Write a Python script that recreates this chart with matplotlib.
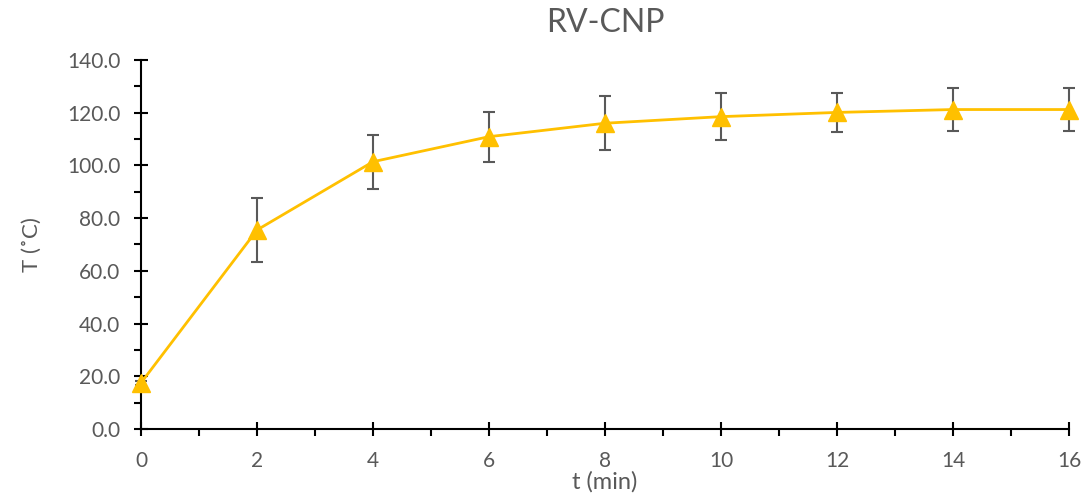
import matplotlib
matplotlib.use("Agg")
import matplotlib.pyplot as plt
from matplotlib.ticker import MultipleLocator, FormatStrFormatter

t_min = [0, 2, 4, 6, 8, 10, 12, 14, 16]
temp = [17.5, 75.5, 101.4, 110.9, 116.0, 118.5, 120.1, 121.2, 121.2]
err = [0.8, 12.0, 10.3, 9.5, 10.2, 9.0, 7.4, 8.1, 8.1]

plt.rcParams['font.family'] = ['Lato', 'DejaVu Sans']
gray = '#595959'
gold = '#FFC000'

fig = plt.figure(figsize=(10.88, 4.99), dpi=100)
ax = fig.add_axes([0.1296, 0.1403, 0.8529, 0.7395])

ax.plot(t_min, temp, color=gold, lw=2.0, zorder=2)
eb = ax.errorbar(t_min, temp, yerr=err, fmt='none', ecolor=gray, elinewidth=1.5,
                 capsize=4, capthick=1.5, zorder=3)
for artist in eb.lines[1] + eb.lines[2]:
    artist.set_clip_on(False)
ax.plot(t_min, temp, linestyle='none', marker='^', markersize=13, color=gold,
        zorder=4, clip_on=False)

ax.set_xlim(0, 16)
ax.set_ylim(0, 140)
ax.xaxis.set_major_locator(MultipleLocator(2))
ax.xaxis.set_minor_locator(MultipleLocator(1))
ax.yaxis.set_major_locator(MultipleLocator(20))
ax.yaxis.set_minor_locator(MultipleLocator(10))
ax.yaxis.set_major_formatter(FormatStrFormatter('%.1f'))

for s in ['top', 'right']:
    ax.spines[s].set_visible(False)
for s in ['left', 'bottom']:
    ax.spines[s].set_linewidth(1.5)
    ax.spines[s].set_color('black')

ax.tick_params(which='major', direction='inout', length=10, width=1.5, colors='black',
               labelcolor=gray, labelsize=15)
ax.tick_params(which='minor', direction='out', length=5, width=1.5, colors='black')
ax.tick_params(axis='x', which='major', pad=11)
ax.tick_params(axis='y', which='major', pad=10)

ax.set_title('RV-CNP', fontsize=23, color=gray, pad=20)
ax.set_xlabel('t (min)', fontsize=17, color=gray, labelpad=0)
ax.set_ylabel('T (˚C)', fontsize=16, color=gray, labelpad=18)

fig.savefig('out.png', dpi=100)
